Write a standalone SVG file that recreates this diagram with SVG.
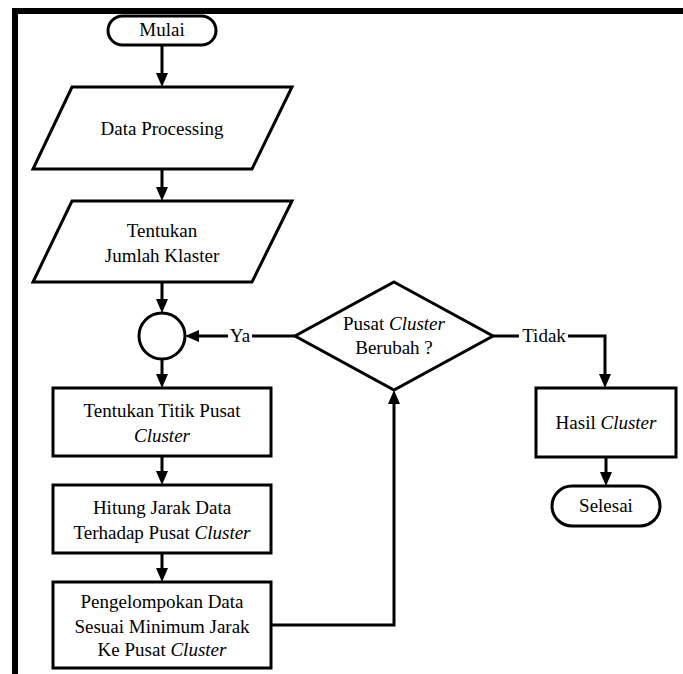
<svg xmlns="http://www.w3.org/2000/svg" width="683" height="674" viewBox="0 0 683 674">
<style>
.s{fill:#fff;stroke:#000;stroke-width:3}
.c{fill:none;stroke:#000;stroke-width:3}
text{font-family:"Liberation Serif","Times New Roman",serif;font-size:19px;fill:#000;text-anchor:middle}
.i{font-style:italic}
</style>
<defs>
<marker id="ah" markerUnits="userSpaceOnUse" markerWidth="14" markerHeight="12" viewBox="0 0 14 12" refX="4" refY="6" orient="auto">
<path d="M0,0 L14,6 L0,12 z" fill="#000"/>
</marker>
</defs>
<rect width="683" height="674" fill="#fff"/>
<path d="M15,674 V11 H683" fill="none" stroke="#000" stroke-width="6"/>
<g id="connectors">
<path class="c" d="M162,45 V77" marker-end="url(#ah)"/>
<path class="c" d="M162,169 V191" marker-end="url(#ah)"/>
<path class="c" d="M162,282 V303" marker-end="url(#ah)"/>
<path class="c" d="M162,359 V378" marker-end="url(#ah)"/>
<path class="c" d="M162,456 V475" marker-end="url(#ah)"/>
<path class="c" d="M162,553 V572" marker-end="url(#ah)"/>
<path class="c" d="M271,625 H394 V400" marker-end="url(#ah)"/>
<path class="c" d="M295,336 H252"/>
<path class="c" d="M228,336 H195" marker-end="url(#ah)"/>
<text x="240" y="342">Ya</text>
<path class="c" d="M493,336 H519"/>
<path class="c" d="M568,336 H605 V378" marker-end="url(#ah)"/>
<text x="544" y="342">Tidak</text>
<path class="c" d="M606,457 V476" marker-end="url(#ah)"/>
</g>
<g id="mulai">
<rect class="s" x="108" y="16" width="108" height="29" rx="14.5"/>
<text x="162" y="36">Mulai</text>
</g>
<g id="data-processing">
<polygon class="s" points="72,87 292,87 252,169 33,169"/>
<text x="162" y="135">Data Processing</text>
</g>
<g id="jumlah-klaster">
<polygon class="s" points="72,201 292,201 252,282 33,282"/>
<text x="162" y="237">Tentukan</text>
<text x="162" y="262">Jumlah Klaster</text>
</g>
<g id="connector-circle">
<circle class="s" cx="162" cy="336" r="23"/>
</g>
<g id="titik-pusat">
<rect class="s" x="53" y="388" width="218" height="68"/>
<text x="162" y="417">Tentukan Titik Pusat</text>
<text x="162" y="442" class="i">Cluster</text>
</g>
<g id="hitung-jarak">
<rect class="s" x="53" y="485" width="218" height="68"/>
<text x="162" y="514">Hitung Jarak Data</text>
<text x="162" y="539">Terhadap Pusat <tspan class="i">Cluster</tspan></text>
</g>
<g id="pengelompokan">
<rect class="s" x="53" y="582" width="218" height="86"/>
<text x="162" y="608">Pengelompokan Data</text>
<text x="162" y="633">Sesuai Minimum Jarak</text>
<text x="162" y="656">Ke Pusat <tspan class="i">Cluster</tspan></text>
</g>
<g id="pusat-berubah">
<polygon class="s" points="394,282 493,336 394,390 295,336"/>
<text x="394" y="330">Pusat <tspan class="i">Cluster</tspan></text>
<text x="394" y="354">Berubah ?</text>
</g>
<g id="hasil-cluster">
<rect class="s" x="536" y="388" width="140" height="69"/>
<text x="606" y="429">Hasil <tspan class="i">Cluster</tspan></text>
</g>
<g id="selesai">
<rect class="s" x="552" y="486" width="108" height="40" rx="20"/>
<text x="606" y="512">Selesai</text>
</g>
</svg>
